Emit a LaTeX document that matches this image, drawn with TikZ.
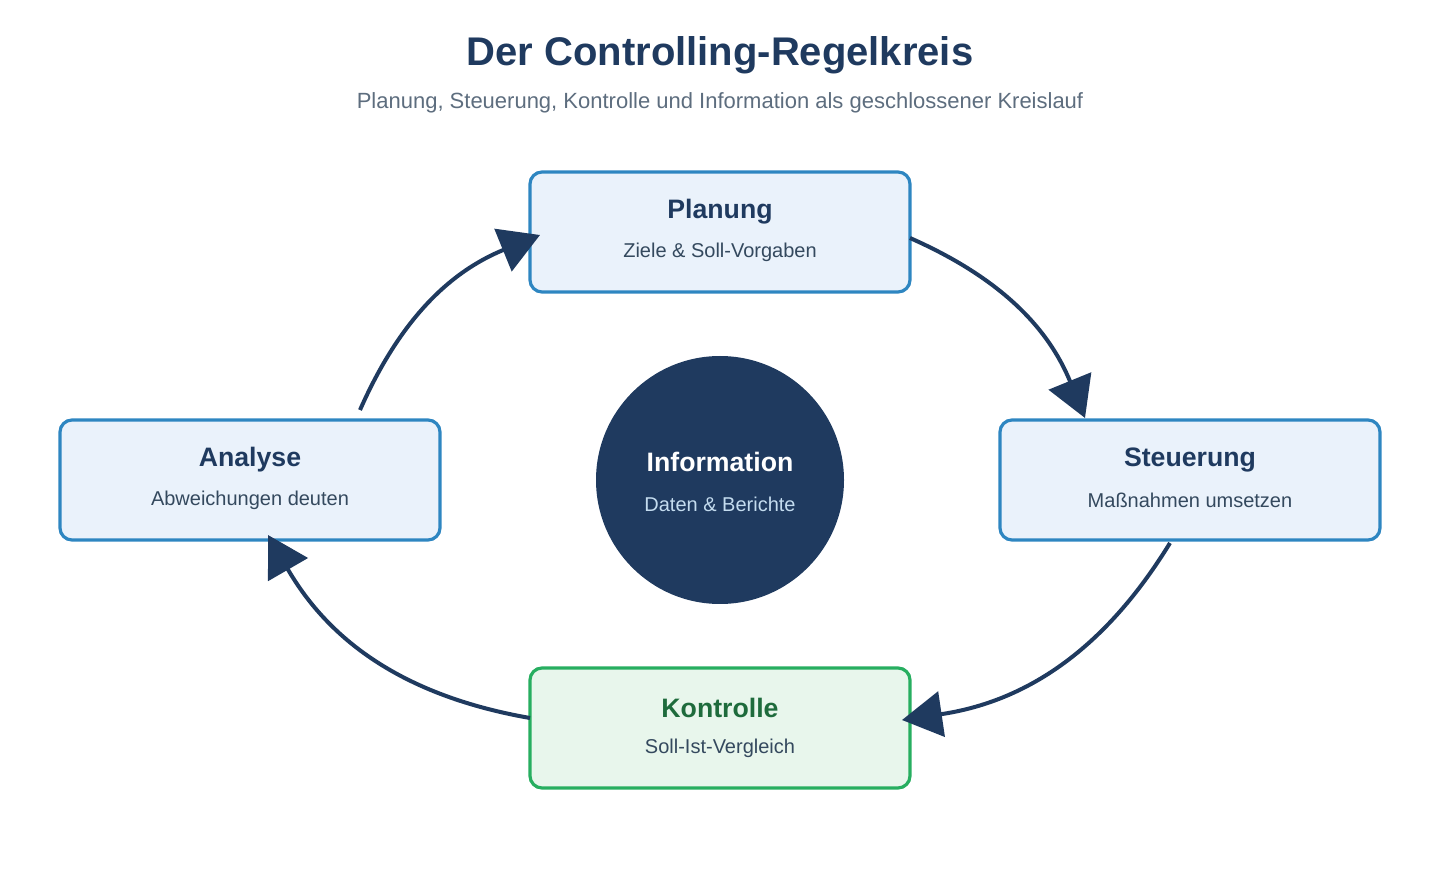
\documentclass[tikz,border=0pt]{standalone}
\usepackage{fontspec}
\setmainfont{Liberation Sans}
\usetikzlibrary{arrows.meta}
\definecolor{navy}{HTML}{1F3A5F}
\definecolor{bbord}{HTML}{2E86C1}
\definecolor{bfill}{HTML}{EAF2FB}
\definecolor{gbord}{HTML}{27AE60}
\definecolor{gfill}{HTML}{E8F6EC}
\definecolor{gtext}{HTML}{1E6B3C}
\definecolor{subt}{HTML}{5D6D7E}
\definecolor{body}{HTML}{34495E}
\tikzset{
  stepbox/.style={draw=bbord,fill=bfill,line width=2.4pt,rounded corners=9pt,minimum width=285pt,minimum height=90pt,inner sep=0pt},
  greenbox/.style={stepbox,draw=gbord,fill=gfill},
  ttl/.style={font=\bfseries\fontsize{20}{24}\selectfont,text=navy},
  sub/.style={font=\fontsize{15}{18}\selectfont,text=body},
  flow/.style={draw=navy,line width=3pt,-{Triangle[length=30pt,width=34pt]}}
}
\begin{document}
\begin{tikzpicture}[x=0.75pt,y=-0.75pt]
\useasboundingbox (0,0) rectangle (1440,880);
\node (title) at (720,55) {\bfseries\fontsize{30}{36}\selectfont\color{navy}Der Controlling-Regelkreis};
\node (subtitle) at (720,103) {\fontsize{16.5}{20}\selectfont\color{subt}Planung, Steuerung, Kontrolle und Information als geschlossener Kreislauf};
\node[stepbox] (P) at (720,232) {};
\node[ttl] (Pt) at (720,212) {Planung};
\node[sub] (Ps) at (720,252) {Ziele \& Soll-Vorgaben};
\node[stepbox] (A) at (250,480) {};
\node[ttl] (At) at (250,460) {Analyse};
\node[sub] (As) at (250,500) {Abweichungen deuten};
\node[stepbox] (S) at (1190,480) {};
\node[ttl] (St) at (1190,460) {Steuerung};
\node[sub] (Ss) at (1190,500) {Maßnahmen umsetzen};
\node[greenbox] (K) at (720,728) {};
\node[ttl,text=gtext] (Kt) at (720,708) {Kontrolle};
\node[sub] (Ks) at (720,748) {Soll-Ist-Vergleich};
\node[circle,fill=navy,minimum size=186pt,inner sep=0pt] (I) at (720,480) {};
\node[font=\bfseries\fontsize{20}{24}\selectfont,text=white] (It) at (720,462) {Information};
\node[font=\fontsize{15}{18}\selectfont,text=bfill!80!bbord] (Is) at (720,504) {Daten \& Berichte};
\coordinate (p1) at (910,238); \coordinate (s1) at (1085,418);
\coordinate (s2) at (1170,543); \coordinate (k1) at (902,720);
\coordinate (k2) at (530,718); \coordinate (a1) at (268,535);
\coordinate (a2) at (360,410); \coordinate (p2) at (540,235);
\draw[flow] (p1) to[bend left=22] (s1);
\draw[flow] (s2) to[bend left=25] (k1);
\draw[flow] (k2) to[bend left=25] (a1);
\draw[flow] (a2) to[bend left=22] (p2);
\end{tikzpicture}
\end{document}
